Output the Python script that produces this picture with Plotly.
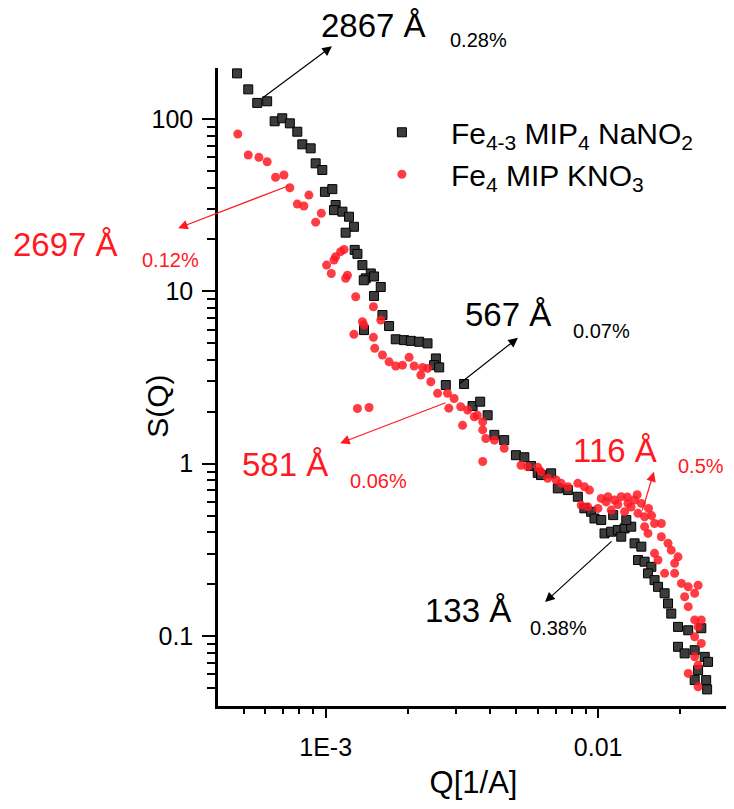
import plotly.graph_objects as go

# ---------------- data ----------------
black_name = "Fe<sub>4-3</sub> MIP<sub>4</sub> NaNO<sub>2</sub>"
black_q = [4.73e-4, 5.2e-4, 5.61e-4, 6.1e-4, 6.5e-4, 6.93e-4, 7.39e-4, 7.87e-4, 8.21e-4, 8.81e-4,
           9.19e-4, 9.72e-4, 9.94e-4, 1.058e-3, 1.088e-3, 1.073e-3, 1.152e-3, 1.218e-3, 1.27e-3, 1.184e-3,
           1.278e-3, 1.308e-3, 1.364e-3, 1.464e-3, 1.403e-3, 1.505e-3, 1.593e-3, 1.505e-3, 1.38e-3, 1.616e-3,
           1.709e-3, 1.383e-3, 1.808e-3, 1.94e-3, 2.054e-3, 2.203e-3, 2.365e-3, 2.538e-3, 2.5e-3, 2.61e-3,
           2.76e-3, 3.22e-3, 3.46e-3, 3.69e-3, 3.93e-3, 4.16e-3, 4.52e-3, 4.99e-3, 5.36e-3, 5.67e-3,
           6.0e-3, 6.17e-3, 6.72e-3, 7.11e-3, 7.74e-3, 8.42e-3, 8.9e-3, 9.42e-3, 9.69e-3, 0.01055,
           0.01116, 0.01181, 0.0125, 0.01322, 0.01215, 0.0136, 0.0144, 0.014, 0.0148, 0.01567,
           0.01523, 0.0161, 0.01658, 0.01753, 0.01804, 0.01854, 0.01963, 0.0214, 0.0239, 0.01963,
           0.02076, 0.0226, 0.0246, 0.0253, 0.02326, 0.0226, 0.0249, 0.0251, 0.01026, 0.01135,
           0.01268]
black_s = [184, 148.6, 124, 126.7, 97, 101, 94.4, 84.4, 71.3, 67.6,
           55.3, 50.6, 37.8, 39.2, 31.7, 29.6, 29.0, 27.1, 23.7, 21.9,
           17.4, 16.5, 14.2, 12.7, 11.9, 12.2, 10.6, 9.4, 11.6, 7.29,
           6.29, 5.96, 5.27, 5.21, 5.16, 5.1, 4.99, 4.08, 3.73, 3.62,
           2.86, 2.9, 2.16, 2.29, 1.91, 1.47, 1.37, 1.12, 1.09, 0.97,
           0.885, 0.859, 0.879, 0.719, 0.703, 0.643, 0.551, 0.526, 0.481, 0.394,
           0.403, 0.412, 0.421, 0.431, 0.377, 0.345, 0.33, 0.276, 0.27, 0.252,
           0.231, 0.211, 0.193, 0.177, 0.1545, 0.135, 0.113, 0.108, 0.111, 0.0866,
           0.0793, 0.0828, 0.0757, 0.0708, 0.0634, 0.0555, 0.0555, 0.049, 0.471, 0.503,
           0.471]

red_name = "Fe<sub>4</sub> MIP KNO<sub>3</sub>"
red_q = [4.76e-4, 5.2e-4, 5.69e-4, 6.1e-4, 6.55e-4, 7.03e-4, 7.39e-4, 8.68e-4, 7.87e-4, 8.32e-4,
         9.64e-4, 9.19e-4, 1.168e-3, 1.135e-3, 1.088e-3, 1.073e-3, 1.008e-3, 1.049e-3, 1.202e-3, 1.184e-3,
         1.289e-3, 1.497e-3, 1.364e-3, 1.383e-3, 1.593e-3, 1.27e-3, 1.497e-3, 1.514e-3, 1.616e-3, 1.709e-3,
         1.808e-3, 1.914e-3, 2.024e-3, 2.112e-3, 2.268e-3, 2.365e-3, 2.235e-3, 2.432e-3, 2.575e-3, 2.8e-3,
         2.83e-3, 1.308e-3, 1.443e-3, 2.96e-3, 3.13e-3, 3.32e-3, 3.51e-3, 3.6e-3, 3.77e-3, 3.18e-3,
         3.77e-3, 3.87e-3, 4.16e-3, 4.52e-3, 3.77e-3, 5.21e-3, 5.51e-3, 6.0e-3, 6.17e-3, 6.53e-3,
         7.01e-3, 7.31e-3, 7.74e-3, 8.42e-3, 8.9e-3, 9.29e-3, 0.01026, 0.01086, 0.01148, 0.01215,
         0.01286, 0.0136, 0.0144, 8.66e-3, 9.16e-3, 9.98e-3, 0.01116, 0.0125, 0.014, 0.0148,
         0.0148, 0.0161, 0.01705, 0.01523, 0.01705, 0.01804, 0.0161, 0.01854, 0.01963, 0.01658,
         0.01908, 0.01753, 0.01908, 0.0202, 0.0214, 0.02326, 0.0226, 0.02076, 0.0214, 0.0226,
         0.0239, 0.02326, 0.0226, 0.0239, 0.0226, 0.0214, 0.02326, 0.02326, 0.0118, 0.0132,
         0.0128, 0.0107, 0.0139, 0.0153, 0.0157]
red_s = [81.8, 61.8, 59.9, 56.5, 45.9, 47.3, 39.9, 36.2, 32.1, 31.3,
         28.4, 25.2, 17.5, 17.0, 15.9, 15.2, 14.2, 12.7, 12.4, 11.9,
         9.3, 8.14, 6.66, 6.37, 6.81, 5.63, 5.41, 4.67, 4.27, 3.9,
         3.69, 3.73, 4.14, 3.69, 3.62, 3.57, 3.27, 2.99, 2.56, 2.56,
         2.1, 2.09, 2.12, 2.39, 2.14, 2.05, 1.87, 1.91, 1.75, 1.67,
         1.57, 1.40, 1.37, 1.23, 1.03, 0.98, 0.96, 0.953, 0.897, 0.822,
         0.804, 0.769, 0.735, 0.769, 0.735, 0.703, 0.629, 0.643, 0.615, 0.643,
         0.588, 0.615, 0.588, 0.575, 0.562, 0.55, 0.538, 0.526, 0.515, 0.492,
         0.431, 0.45, 0.45, 0.394, 0.377, 0.345, 0.302, 0.315, 0.288, 0.276,
         0.264, 0.231, 0.231, 0.202, 0.193, 0.197, 0.177, 0.169, 0.148, 0.124,
         0.124, 0.113, 0.099, 0.0906, 0.0757, 0.0607, 0.0678, 0.0507, 0.58, 0.56,
         0.64, 0.6, 0.66, 0.55, 0.5]

x_tickvals = [1e-3, 1e-2]
x_ticktext = ["1E-3", "0.01"]
x_minor = [4e-4, 5e-4, 6e-4, 7e-4, 8e-4, 9e-4, 2e-3, 3e-3, 4e-3, 5e-3, 6e-3, 7e-3, 8e-3, 9e-3, 2e-2, 3e-2]
y_tickvals = [0.1, 1, 10, 100]
y_ticktext = ["0.1", "1", "10", "100"]
y_minor = [0.05, 0.06, 0.07, 0.08, 0.09, 0.2, 0.3, 0.4, 0.5, 0.6, 0.7, 0.8, 0.9,
           2, 3, 4, 5, 6, 7, 8, 9, 20, 30, 40, 50, 60, 70, 80, 90]

# annotation labels: (main text, subscript, colour)
labels = [("2867 Å", "0.28%", "black"),
          ("2697 Å", "0.12%", "red"),
          ("567 Å", "0.07%", "black"),
          ("581 Å", "0.06%", "red"),
          ("116 Å", "0.5%", "red"),
          ("133 Å", "0.38%", "black")]

FONT = "Liberation Sans, Arial, Helvetica, sans-serif"
RED = "rgb(255,25,35)"

fig = go.Figure()
fig.add_trace(go.Scatter(
    x=black_q, y=black_s, mode="markers", name=black_name,
    marker=dict(symbol="square", size=9, color="rgb(60,60,60)",
                line=dict(color="black", width=1))))
fig.add_trace(go.Scatter(
    x=red_q, y=red_s, mode="markers", name=red_name,
    marker=dict(symbol="circle", size=9, color=RED, opacity=0.85,
                line=dict(width=0))))

# text positions (paper coordinates) for main text and subscript
text_pos = [((0.200, 1.066), (0.452, 1.044)),
            ((-0.403, 0.724), (-0.151, 0.699)),
            ((0.481, 0.614), (0.693, 0.588)),
            ((0.045, 0.378), (0.256, 0.353)),
            ((0.693, 0.400), (0.898, 0.376)),
            ((0.403, 0.149), (0.609, 0.122))]
arrows = [((0.223, 1.034), (-70, 52), "black"),
          ((-0.078, 0.749), (112, -43), RED),
          ((0.587, 0.577), (-60, 47), "black"),
          ((0.239, 0.412), (107, -41), RED),
          ((0.853, 0.367), (-12, 40), RED),
          ((0.640, 0.163), (68, -62), "black")]

annos = []
for (main, sub, col), ((mx, my), (sx, sy)) in zip(labels, text_pos):
    c = RED if col == "red" else "black"
    annos.append(dict(text=main, x=mx, y=my, xref="paper", yref="paper",
                      xanchor="left", yanchor="middle", showarrow=False, borderpad=0,
                      font=dict(family=FONT, size=33, color=c)))
    annos.append(dict(text=sub, x=sx, y=sy, xref="paper", yref="paper",
                      xanchor="left", yanchor="middle", showarrow=False, borderpad=0,
                      font=dict(family=FONT, size=20, color=c)))
for (hx, hy), (ax, ay), c in arrows:
    annos.append(dict(text="", x=hx, y=hy, xref="paper", yref="paper",
                      ax=ax, ay=ay, showarrow=True, arrowhead=2, arrowsize=1.6,
                      arrowwidth=1.2, arrowcolor=c, standoff=0, startstandoff=0))
annos.append(dict(text="S(Q)", x=-0.120, y=0.470, xref="paper", yref="paper",
                  textangle=-90, showarrow=False, xanchor="center", yanchor="middle",
                  font=dict(family=FONT, size=30, color="black")))

# the page body adds an 8px offset, so the figure is 8px smaller and margins shifted
fig.update_layout(
    width=726, height=801,
    margin=dict(l=210, r=5, t=60, b=103),
    paper_bgcolor="white", plot_bgcolor="white",
    font=dict(family=FONT, color="black"),
    showlegend=True,
    legend=dict(x=0.264, y=0.94, xanchor="left", yanchor="top",
                bgcolor="rgba(0,0,0,0)", font=dict(size=30, family=FONT),
                itemsizing="trace", itemwidth=88, tracegroupgap=0),
    annotations=annos,
)
fig.update_xaxes(
    type="log", range=[-3.395, -1.52],
    showline=True, linecolor="black", linewidth=2.5, mirror=False,
    showgrid=False, zeroline=False,
    tickmode="array", tickvals=x_tickvals, ticktext=x_ticktext,
    ticks="outside", ticklen=9, tickwidth=2, tickcolor="black",
    tickfont=dict(size=25, family=FONT, color="black"), ticklabelstandoff=8,
    minor=dict(tickvals=x_minor, ticks="outside", ticklen=5, tickwidth=1.5,
               tickcolor="black", showgrid=False),
    title=dict(text="Q[1/A]", font=dict(size=31, family=FONT), standoff=12),
)
fig.update_yaxes(
    type="log", range=[-1.406, 2.296],
    showline=True, linecolor="black", linewidth=2.5, mirror=False,
    showgrid=False, zeroline=False,
    tickmode="array", tickvals=y_tickvals, ticktext=y_ticktext,
    ticks="outside", ticklen=13, tickwidth=2, tickcolor="black",
    tickfont=dict(size=25, family=FONT, color="black"), ticklabelstandoff=4,
    minor=dict(tickvals=y_minor, ticks="outside", ticklen=8, tickwidth=1.5,
               tickcolor="black", showgrid=False),
)

fig.write_html("out.html")
